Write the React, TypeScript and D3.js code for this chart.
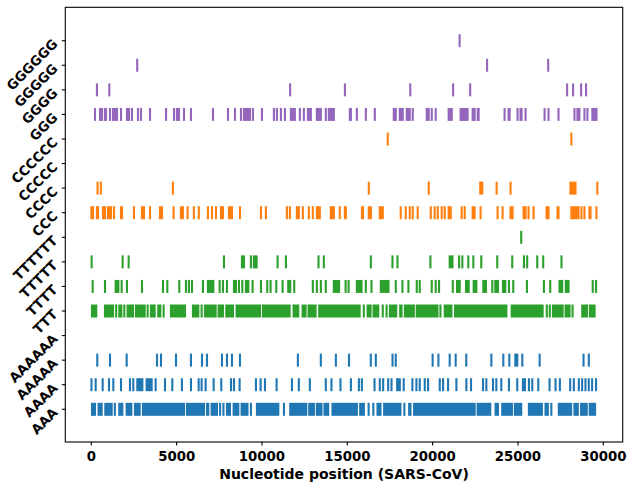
import { useEffect, useRef } from 'react';
import * as d3 from 'd3';

// homopolymer runs along the SARS-CoV genome (start positions, nt)
const AAA = [42, 130, 218, 430, 536, 607, 822, 933, 1051, 1192, 1378, 1642, 1735, 1817, 2071, 2190, 2345, 2560, 2675, 2833, 3028, 3141, 3260, 3378, 3497, 3616, 3735, 3844, 3926, 4082, 4200, 4319, 4438, 4557, 4676, 4794, 4913, 5032, 5151, 5270, 5389, 5430, 5605, 5725, 5844, 5963, 6082, 6200, 6320, 6438, 6557, 6602, 6785, 6854, 7050, 7216, 7363, 7548, 7743, 7950, 8042, 8124, 8340, 8458, 8613, 8808, 8904, 9003, 9150, 9354, 9706, 9825, 9944, 10062, 10181, 10300, 10418, 10537, 10565, 10726, 10799, 10955, 11288, 11658, 11775, 11894, 12013, 12132, 12250, 12370, 12488, 12594, 12770, 12892, 13042, 13215, 13332, 13450, 13487, 13665, 13780, 13880, 14133, 14255, 14373, 14492, 14610, 14730, 14850, 14967, 15085, 15204, 15330, 15440, 15560, 15756, 15867, 15970, 16250, 16525, 16770, 16855, 16944, 17160, 17271, 17390, 17508, 17627, 17745, 17865, 17983, 18112, 18343, 18626, 18700, 18914, 19030, 19150, 19268, 19387, 19505, 19624, 19742, 19860, 19980, 20100, 20161, 20316, 20435, 20554, 20672, 20790, 20910, 21028, 21146, 21265, 21384, 21502, 21620, 21740, 21858, 21977, 22095, 22214, 22333, 22460, 22637, 22757, 22876, 22994, 23113, 23232, 23376, 23689, 23826, 24080, 24192, 24311, 24430, 24548, 24644, 24820, 24933, 25050, 25190, 25640, 25754, 25872, 25990, 26110, 26228, 26346, 26400, 26615, 26750, 26955, 27394, 27513, 27632, 27750, 27868, 27987, 28114, 28310, 28414, 28505, 28700, 28818, 28937, 29030, 29206, 29322, 29440, 29518];
const AAAA = [10, 255, 666, 1037, 1290, 1740, 2266, 2460, 2696, 2852, 2990, 3243, 3380, 3536, 3770, 4317, 4746, 5310, 5840, 6290, 6465, 6700, 7168, 7616, 8184, 8360, 8690, 9647, 9920, 10175, 10858, 11756, 12160, 12805, 13740, 14072, 14600, 15210, 15679, 15853, 16595, 16905, 17100, 17395, 17590, 17920, 18075, 18307, 18815, 19050, 19245, 19538, 19734, 20418, 20612, 20905, 21393, 21977, 22250, 22952, 23147, 23537, 23732, 24023, 24471, 24958, 25290, 25407, 25642, 25837, 26190, 26850, 27200, 27455, 28060, 28275, 28566, 28760, 28955, 29150, 29345, 29575];
const AAAAA = [350, 1096, 2073, 3850, 4083, 4963, 5840, 6485, 6780, 7657, 7950, 8243, 8710, 12104, 13450, 14330, 15100, 16378, 16670, 17650, 17840, 20000, 20340, 21000, 21350, 21970, 23440, 24143, 24494, 24845, 24960, 25255, 26270, 28842, 29150];
const AAAAAA: number[] = [];

const TTT = [40, 160, 290, 802, 922, 1040, 1160, 1272, 1457, 1642, 1758, 1935, 2130, 2208, 2364, 2441, 2618, 2735, 2853, 2972, 3126, 3302, 3496, 3606, 3711, 3926, 4044, 4239, 4668, 4784, 4903, 5022, 5141, 5260, 5379, 5488, 5955, 6070, 6190, 6270, 6465, 6660, 6775, 6894, 7012, 7131, 7285, 7461, 7587, 7715, 7910, 8023, 8141, 8300, 8515, 8636, 8755, 8874, 8993, 9112, 9230, 9349, 9468, 9587, 9706, 9825, 9882, 10057, 10171, 10290, 10409, 10527, 10646, 10765, 10884, 11003, 11122, 11240, 11359, 11478, 11620, 11853, 11973, 12126, 12380, 12466, 12555, 12731, 12853, 12971, 13140, 13354, 13475, 13594, 13712, 13830, 13950, 14070, 14190, 14310, 14430, 14548, 14667, 14785, 14900, 15020, 15132, 15250, 15370, 15488, 15607, 15722, 15966, 16190, 16280, 16365, 16541, 16665, 16814, 17077, 17302, 17497, 17595, 17750, 17867, 18100, 18178, 18374, 18490, 18610, 18730, 18897, 19070, 19192, 19310, 19430, 19548, 19667, 19786, 19905, 20024, 20142, 20282, 20457, 20711, 20825, 20944, 21100, 21315, 21438, 21556, 21675, 21794, 21913, 22032, 22150, 22270, 22388, 22507, 22626, 22745, 22863, 22982, 23100, 23220, 23338, 23457, 23575, 23694, 23813, 23932, 24050, 24164, 24320, 24632, 24752, 24870, 24990, 25108, 25227, 25345, 25464, 25583, 25702, 25820, 25940, 26058, 26176, 26295, 26445, 26690, 26866, 27050, 27165, 27284, 27403, 27520, 27617, 27792, 27908, 28025, 28200, 28767, 28886, 29040, 29215, 29330, 29489];
const TTTT = [80, 802, 1430, 1586, 1780, 2090, 2970, 4200, 4454, 5155, 5545, 5720, 5898, 6543, 6835, 6992, 7148, 7520, 7715, 7950, 8360, 8475, 8652, 8847, 9060, 9199, 9452, 9940, 10310, 10505, 10838, 11208, 11540, 11655, 11890, 12980, 13215, 13450, 13740, 14210, 14365, 14520, 14900, 15075, 15560, 15697, 15833, 16085, 16417, 16964, 17120, 17275, 17412, 17840, 18230, 18580, 19070, 19245, 19948, 20180, 20376, 21180, 21430, 21586, 21957, 22113, 22405, 22560, 22970, 23125, 23497, 23672, 23828, 24120, 24257, 24472, 24724, 25525, 26520, 26890, 27436, 27592, 27806, 27963, 29380, 29575];
const TTTTT = [20, 1836, 2188, 7773, 8827, 8945, 9354, 9530, 9687, 10917, 11405, 13313, 13625, 16380, 17646, 17940, 19870, 21000, 21160, 21550, 21740, 22090, 22385, 22850, 23786, 24665, 25350, 25540, 26130, 26480, 27550];
const TTTTTT = [25190];

const CCC = [10, 100, 330, 392, 685, 802, 977, 1096, 1154, 1330, 1740, 1798, 2500, 2970, 3087, 3440, 4025, 4142, 4822, 5250, 5367, 5640, 6010, 6300, 6835, 7070, 7305, 7600, 7715, 8066, 8184, 8242, 8710, 9940, 10230, 11460, 11636, 12045, 12160, 12395, 12747, 12980, 13215, 13330, 13390, 14034, 14150, 14210, 14560, 14860, 14915, 15860, 15920, 16260, 16380, 16905, 17022, 17080, 18130, 18426, 18660, 18835, 19127, 19890, 20120, 20300, 20530, 20710, 20940, 21060, 21700, 21880, 22345, 22460, 22810, 23806, 24100, 24565, 24684, 25330, 25445, 25620, 25915, 26675, 26790, 27320, 27375, 28130, 28250, 28370, 28485, 28545, 28720, 28895, 29190, 29250, 29600];
const CCCC = [368, 562, 4780, 16260, 19770, 22790, 22910, 23750, 24565, 28075, 28210, 28370, 29650];
const CCCCC: number[] = [];
const CCCCCC = [17370, 28130];

const GGG = [218, 509, 627, 802, 861, 1096, 1272, 1390, 1507, 1740, 2090, 2208, 2383, 2735, 2911, 3440, 4380, 4850, 5020, 5140, 5430, 5840, 7130, 8010, 8420, 8770, 8945, 9060, 9180, 9295, 9470, 9998, 10700, 10876, 11110, 11343, 11694, 11811, 11927, 12220, 12455, 12690, 12805, 12865, 13215, 13330, 13450, 13740, 13918, 14034, 14150, 14210, 15150, 15210, 15560, 16085, 16613, 17724, 17840, 18075, 18190, 18250, 18484, 18600, 18660, 18835, 19655, 19770, 19948, 20180, 20940, 21060, 21120, 21640, 21760, 21880, 21995, 22050, 22345, 22460, 22640, 22696, 24216, 24450, 24510, 24976, 25150, 25210, 25445, 26560, 26790, 27375, 28310, 28485, 28600, 28895, 29070, 29360, 29480, 29600];
const GGGG = [330, 1055, 11650, 14860, 18690, 21200, 22200, 27880, 28230, 28700, 28990];
const GGGGG = [2690, 23190, 26770];
const GGGGGG = [21580];

const ROW_LABELS = ['AAA', 'AAAA', 'AAAAA', 'AAAAAA', 'TTT', 'TTTT', 'TTTTT', 'TTTTTT', 'CCC', 'CCCC', 'CCCCC', 'CCCCCC', 'GGG', 'GGGG', 'GGGGG', 'GGGGGG'];
const ROW_DATA = [AAA, AAAA, AAAAA, AAAAAA, TTT, TTTT, TTTTT, TTTTTT, CCC, CCCC, CCCCC, CCCCCC, GGG, GGGG, GGGGG, GGGGGG];
const BASE_COLORS = ['#1f77b4', '#2ca02c', '#ff7f0e', '#9467bd'];
const X_TICKS = [0, 5000, 10000, 15000, 20000, 25000, 30000];

const WIDTH = 634;
const HEIGHT = 488;
const FONT = '"DejaVu Sans", sans-serif';

export default function App() {
  const svgRef = useRef<SVGSVGElement>(null);

  useEffect(() => {
    if (!svgRef.current) return;
    d3.select(svgRef.current).selectAll('*').remove();

    const svg = d3.select(svgRef.current)
      .attr('width', WIDTH)
      .attr('height', HEIGHT);

    const left = 65.3, right = 622.7, top = 7.3, bottom = 442;

    const x = d3.scaleLinear().domain([0, 30000]).range([91.3, 603.3]);
    const y = d3.scaleLinear().domain([0, 15]).range([409.3, 40.7]);
    const lineLen = 13;
    const lineW = 2.1;

    // event lines; nearly touching lines are drawn as one rect so dense
    // stretches render solid instead of showing antialiasing seams
    ROW_DATA.forEach((positions, i) => {
      const px = positions.map(d => x(d)).sort((a, b) => a - b);
      const runs: [number, number][] = [];
      px.forEach(p => {
        const last = runs[runs.length - 1];
        if (last && p - last[1] <= lineW + 0.8) last[1] = p;
        else runs.push([p, p]);
      });
      svg.append('g')
        .selectAll('rect')
        .data(runs)
        .enter()
        .append('rect')
        .attr('x', d => d[0] - lineW / 2)
        .attr('width', d => d[1] - d[0] + lineW)
        .attr('y', y(i) - lineLen / 2)
        .attr('height', lineLen)
        .attr('fill', BASE_COLORS[Math.floor(i / 4)]);
    });

    // frame
    svg.append('rect')
      .attr('x', left)
      .attr('y', top)
      .attr('width', right - left)
      .attr('height', bottom - top)
      .attr('fill', 'none')
      .attr('stroke', '#000')
      .attr('stroke-width', 1.1);

    // x axis
    const xg = svg.append('g');
    X_TICKS.forEach(t => {
      xg.append('line')
        .attr('x1', x(t)).attr('x2', x(t))
        .attr('y1', bottom).attr('y2', bottom + 3.5)
        .attr('stroke', '#000').attr('stroke-width', 1.1);
      xg.append('text')
        .attr('x', x(t))
        .attr('y', 460.5)
        .attr('text-anchor', 'middle')
        .attr('font-family', FONT)
        .attr('font-size', 13.3)
        .attr('font-weight', 'bold')
        .text(t);
    });

    svg.append('text')
      .attr('x', (left + right) / 2)
      .attr('y', 478.5)
      .attr('text-anchor', 'middle')
      .attr('font-family', FONT)
      .attr('font-size', 14)
      .attr('font-weight', 'bold')
      .text('Nucleotide position (SARS-CoV)');

    // y axis, rotated labels
    const yg = svg.append('g');
    ROW_LABELS.forEach((label, i) => {
      yg.append('line')
        .attr('x1', left - 3.5).attr('x2', left)
        .attr('y1', y(i)).attr('y2', y(i))
        .attr('stroke', '#000').attr('stroke-width', 1.1);
      yg.append('text')
        .attr('transform', `translate(${left - 10}, ${y(i) + 1}) rotate(-45)`)
        .attr('text-anchor', 'end')
        .attr('dominant-baseline', 'central')
        .attr('font-family', FONT)
        .attr('font-size', 13.3)
        .attr('font-weight', 'bold')
        .text(label);
    });
  }, []);

  return <svg ref={svgRef} style={{ position: 'absolute', left: 0, top: 0 }} />;
}
